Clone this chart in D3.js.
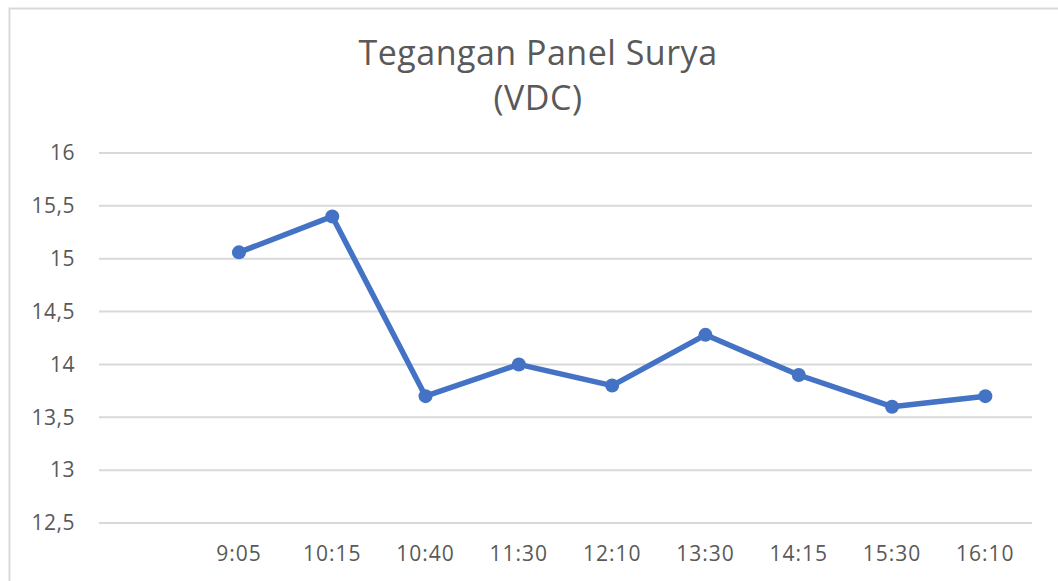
<!DOCTYPE html>
<html><head><meta charset="utf-8">
<script src="https://cdn.jsdelivr.net/npm/d3@7"></script>
<style>body{margin:0;background:#fff;}svg{display:block;font-family:"Open Sans","Noto Sans",sans-serif;}</style>
</head><body>
<svg id="c" width="1058" height="581"></svg>
<script>
const categories = ["", "9:05", "10:15", "10:40", "11:30", "12:10", "13:30", "14:15", "15:30", "16:10"];
const values = [null, 15.06, 15.40, 13.70, 14.00, 13.80, 14.28, 13.90, 13.60, 13.70];
const yTicks = [12.5, 13, 13.5, 14, 14.5, 15, 15.5, 16];
const titleLines = ["Tegangan Panel Surya", "(VDC)"];

const svg = d3.select("#c");
svg.append("rect").attr("x", 9.5).attr("y", 8.5).attr("width", 1100).attr("height", 600)
  .attr("fill", "#fff").attr("stroke", "#d9d9d9").attr("stroke-width", 2);

const x = d3.scaleBand().domain(categories.map((d,i)=>i)).range([99, 1032]);
const y = d3.scaleLinear().domain([12.5, 16]).range([523, 153]);

const grid = svg.append("g");
grid.selectAll("line").data(yTicks).join("line")
  .attr("x1", 99).attr("x2", 1032).attr("y1", d=>y(d)).attr("y2", d=>y(d))
  .attr("stroke", "#d9d9d9").attr("stroke-width", 2);

const yAxis = d3.axisLeft(y).tickValues(yTicks).tickSize(0).tickPadding(0)
  .tickFormat(d => String(d).replace(".", ","));
const ga = svg.append("g").attr("transform", "translate(75,0)").call(yAxis);
ga.select(".domain").remove();
ga.selectAll("text").attr("fill", "#595959").style("font-size", "21px").style("letter-spacing", "0.5px").style("font-family", "'Open Sans',sans-serif");

const xAxis = d3.axisBottom(x).tickSize(0).tickPadding(0).tickFormat(i => categories[i]);
const gx = svg.append("g").attr("transform", "translate(0,546)").call(xAxis);
gx.select(".domain").remove();
gx.selectAll("text").attr("fill", "#595959").style("font-size", "21px").style("letter-spacing", "1px").style("font-family", "'Open Sans',sans-serif");

const pts = values.map((v,i)=>({i, v})).filter(d => d.v !== null);
const line = d3.line().x(d => x(d.i) + x.bandwidth()/2).y(d => y(d.v));
svg.append("path").datum(pts).attr("d", line).attr("fill", "none")
  .attr("stroke", "#4472c4").attr("stroke-width", 5.5).attr("stroke-linejoin", "round");
svg.selectAll("circle.pt").data(pts).join("circle").attr("class", "pt")
  .attr("cx", d => x(d.i) + x.bandwidth()/2).attr("cy", d => y(d.v)).attr("r", 7)
  .attr("fill", "#4472c4");

svg.append("g").selectAll("text").data(titleLines).join("text")
  .attr("x", 538).attr("y", (d,i) => 65 + i*45).attr("text-anchor", "middle")
  .attr("fill", "#595959").style("font-size", "34px").style("letter-spacing", "0.5px").text(d => d);
</script>
</body></html>
